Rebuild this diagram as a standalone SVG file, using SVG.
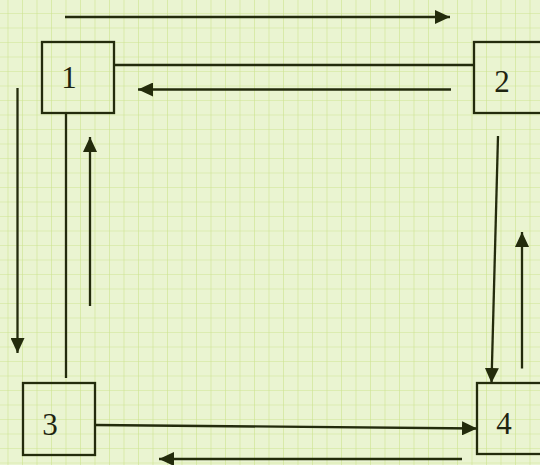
<svg xmlns="http://www.w3.org/2000/svg" width="540" height="465" viewBox="0 0 540 465">
  <defs>
    <pattern id="grid" x="7.5" y="13" width="14.5" height="14.5" patternUnits="userSpaceOnUse">
      <path d="M0 0 H14.5 M0 0 V14.5" fill="none" stroke="#cde390" stroke-width="1.2"/>
    </pattern>
    <marker id="arrow" viewBox="0 0 15 14" refX="15" refY="7" markerWidth="15" markerHeight="14" markerUnits="userSpaceOnUse" orient="auto">
      <path d="M0 0 L15 7 L0 14 Z" fill="#232b0c"/>
    </marker>
    <style>
      .box { fill: none; stroke: #232b0c; stroke-width: 2.3; }
      .lbl { font-family: "Liberation Serif", "Times New Roman", serif; font-size: 31px; fill: #1e2410; text-anchor: middle; }
      .ln { fill: none; stroke: #232b0c; stroke-width: 2.3; }
      .arr { fill: none; stroke: #232b0c; stroke-width: 2.3; marker-end: url(#arrow); }
    </style>
  </defs>

  <!-- graph-paper background -->
  <rect width="540" height="465" fill="#eaf4d1"/>
  <rect width="540" height="465" fill="url(#grid)"/>

  <!-- connectors -->
  <g id="connectors">
    <line class="arr" x1="65" y1="17" x2="450" y2="17"/>
    <line class="ln" x1="114" y1="65" x2="474" y2="65"/>
    <line class="arr" x1="451" y1="89.5" x2="138" y2="89.5"/>
    <line class="ln" x1="66" y1="113" x2="66" y2="378"/>
    <line class="arr" x1="90" y1="306" x2="90" y2="137"/>
    <line class="arr" x1="17.5" y1="88" x2="17.5" y2="353"/>
    <line class="arr" x1="498" y1="136" x2="491.5" y2="383"/>
    <line class="arr" x1="522" y1="368.5" x2="522" y2="232"/>
    <line class="arr" x1="95" y1="425" x2="477" y2="428.5"/>
    <line class="arr" x1="462" y1="459" x2="159" y2="459"/>
  </g>

  <!-- nodes -->
  <g id="node1">
    <rect class="box" x="42" y="42" width="72" height="71"/>
    <text class="lbl" x="69" y="88">1</text>
  </g>
  <g id="node2">
    <rect class="box" x="474" y="42" width="80" height="71"/>
    <text class="lbl" x="502" y="92">2</text>
  </g>
  <g id="node3">
    <rect class="box" x="23" y="383" width="72" height="72"/>
    <text class="lbl" x="50" y="435">3</text>
  </g>
  <g id="node4">
    <rect class="box" x="477" y="383" width="80" height="71"/>
    <text class="lbl" x="504" y="434">4</text>
  </g>
</svg>
